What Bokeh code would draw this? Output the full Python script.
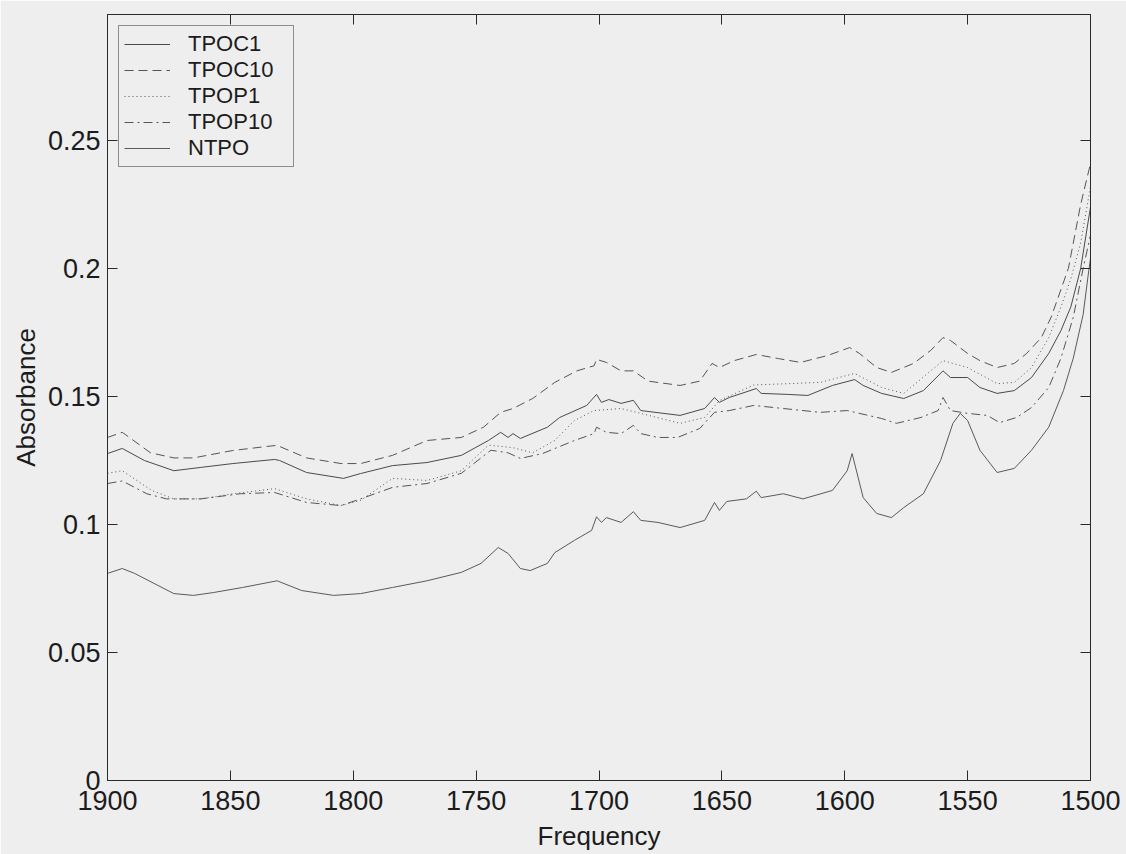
from bokeh.plotting import figure
from bokeh.models import Range1d, FixedTicker, LinearAxis, Legend, LegendItem
from bokeh.embed import file_html
from bokeh.resources import INLINE

# ---- spectra (wavenumber, absorbance) ----
tpoc1_freq = [1900, 1894, 1885, 1873, 1862, 1849, 1832, 1830, 1819, 1804,
              1797, 1784, 1770, 1756, 1745, 1740, 1737, 1735, 1732, 1721,
              1716, 1705, 1701, 1699, 1696, 1691, 1686, 1683, 1667, 1657,
              1653, 1651, 1647, 1636, 1634, 1623, 1615, 1605, 1596, 1592.5,
              1585, 1576, 1568, 1560, 1557, 1550, 1545, 1538, 1531, 1524,
              1517, 1512, 1508, 1504, 1500]
tpoc1_abs = [0.1277, 0.1297, 0.125, 0.121, 0.1223, 0.1238, 0.1254, 0.125, 0.1203, 0.118,
             0.1199, 0.123, 0.1242, 0.127, 0.1328, 0.136, 0.134, 0.1355, 0.1336, 0.138,
             0.1418, 0.1465, 0.1508, 0.1477, 0.1488, 0.1473, 0.1485, 0.1445, 0.1426, 0.1453,
             0.1496, 0.1477, 0.1496, 0.1531, 0.1512, 0.1508, 0.1504, 0.1543, 0.1566, 0.1543,
             0.1512, 0.1492, 0.1523, 0.160, 0.1574, 0.1574, 0.1535, 0.1512, 0.1523, 0.1574,
             0.1668, 0.1758, 0.185, 0.200, 0.224]

tpoc10_freq = [1900, 1894, 1882.5, 1873, 1865, 1849, 1835, 1831, 1819, 1805,
               1797, 1784, 1770, 1756, 1747, 1740, 1735, 1727, 1718, 1709,
               1702, 1701, 1697, 1691, 1686, 1680, 1667, 1659, 1654, 1651,
               1645, 1636, 1627, 1618, 1607, 1598, 1594, 1587, 1581, 1572,
               1565, 1560, 1557, 1550, 1545, 1538, 1531, 1526, 1520, 1516,
               1509, 1504, 1500]
tpoc10_abs = [0.134, 0.136, 0.128, 0.126, 0.126, 0.1289, 0.1305, 0.1309, 0.126, 0.1238,
              0.1238, 0.127, 0.1328, 0.134, 0.138, 0.1438, 0.1453, 0.1492, 0.1555, 0.160,
              0.162, 0.1645, 0.1633, 0.160, 0.160, 0.156, 0.1543, 0.156, 0.1629, 0.1613,
              0.164, 0.1664, 0.1648, 0.1633, 0.166, 0.1691, 0.1668, 0.1613, 0.1594, 0.1629,
              0.168, 0.173, 0.1719, 0.1668, 0.164, 0.1613, 0.1629, 0.1668, 0.173, 0.181,
              0.200, 0.225, 0.241]

tpop1_freq = [1900, 1894, 1882, 1873, 1862, 1849, 1832, 1819, 1805, 1797,
              1784, 1770, 1756, 1745, 1735, 1727, 1718, 1710, 1702, 1691,
              1683, 1667, 1657, 1651, 1637, 1623, 1610, 1596, 1585, 1576,
              1560, 1550, 1538, 1531, 1524, 1517, 1512, 1508, 1504, 1500]
tpop1_abs = [0.12, 0.121, 0.1133, 0.110, 0.110, 0.112, 0.114, 0.110, 0.1074, 0.1094,
             0.118, 0.1172, 0.121, 0.131, 0.130, 0.128, 0.1328, 0.1406, 0.1445, 0.1453,
             0.1434, 0.1395, 0.1418, 0.1484, 0.1545, 0.155, 0.1555, 0.159, 0.1535, 0.1512,
             0.164, 0.1613, 0.155, 0.1555, 0.1613, 0.173, 0.185, 0.196, 0.210, 0.232]

tpop10_freq = [1900, 1894, 1884, 1876, 1862, 1846, 1832, 1819, 1805, 1797,
               1784, 1770, 1756, 1744, 1737, 1732, 1723, 1710, 1702, 1701,
               1697, 1691, 1686, 1683, 1676, 1668, 1659, 1653, 1647, 1637,
               1625, 1610, 1599, 1585, 1579, 1569, 1562, 1560, 1557, 1550,
               1542, 1537, 1530, 1524, 1517, 1512, 1507, 1503, 1500]
tpop10_abs = [0.116, 0.117, 0.112, 0.110, 0.110, 0.112, 0.1125, 0.1086, 0.1074, 0.110,
              0.1145, 0.116, 0.12, 0.129, 0.128, 0.1258, 0.1277, 0.1328, 0.1355, 0.138,
              0.136, 0.1355, 0.1387, 0.1355, 0.134, 0.134, 0.1375, 0.1438, 0.1445, 0.1465,
              0.1453, 0.1438, 0.1445, 0.1414, 0.1395, 0.1418, 0.1445, 0.1496, 0.1445, 0.1434,
              0.1426, 0.1398, 0.1418, 0.1457, 0.1535, 0.165, 0.181, 0.200, 0.213]

ntpo_freq = [1900, 1894, 1889, 1873, 1865, 1857, 1845, 1831, 1821, 1808,
             1797, 1784, 1770, 1756, 1748, 1741, 1737, 1732, 1728, 1721,
             1718, 1710, 1703, 1701, 1699, 1697, 1691, 1686, 1683, 1676,
             1667, 1657, 1653, 1651, 1648, 1640, 1636, 1634, 1625, 1617,
             1605, 1599, 1597, 1592.5, 1587, 1581, 1576, 1568, 1561, 1556,
             1553, 1550, 1545, 1538, 1531, 1524, 1517, 1511, 1507, 1503,
             1501, 1500]
ntpo_abs = [0.0809, 0.0828, 0.0809, 0.073, 0.0723, 0.0734, 0.0754, 0.078, 0.0742, 0.0723,
            0.073, 0.0754, 0.078, 0.0813, 0.0848, 0.091, 0.0887, 0.0828, 0.082, 0.0848,
            0.089, 0.0938, 0.0977, 0.103, 0.1008, 0.1027, 0.1008, 0.105, 0.1016, 0.1008,
            0.0988, 0.1016, 0.1086, 0.1055, 0.109, 0.110, 0.113, 0.1105, 0.112, 0.110,
            0.1133, 0.121, 0.1277, 0.1105, 0.1043, 0.1027, 0.1066, 0.112, 0.125, 0.1395,
            0.1434, 0.1406, 0.129, 0.1203, 0.1219, 0.129, 0.138, 0.1523, 0.165, 0.182,
            0.197, 0.204]

series_names = ["TPOC1", "TPOC10", "TPOP1", "TPOP10", "NTPO"]
x_ticks = [1900, 1850, 1800, 1750, 1700, 1650, 1600, 1550, 1500]
y_ticks = [0, 0.05, 0.1, 0.15, 0.2, 0.25]
y_tick_labels = ["0", "0.05", "0.1", "0.15", "0.2", "0.25"]

BG = "#eeeeee"
INK = "#1c1c1c"
FONT = "Liberation Sans"

p = figure(width=1126, height=854, output_backend="svg", toolbar_location=None,
           x_range=Range1d(1900, 1500), y_range=Range1d(0, 0.2992),
           min_border_left=107, min_border_right=36, min_border_top=14,
           min_border_bottom=74, background_fill_color=BG, border_fill_color=BG,
           outline_line_color="#2a2a2a", outline_line_width=1)
p.grid.visible = False


def style_axis(ax, ticks, labelled):
    ax.ticker = FixedTicker(ticks=ticks)
    ax.minor_tick_line_color = None
    ax.major_tick_in = 10
    ax.major_tick_out = 0
    ax.major_tick_line_color = "#2a2a2a"
    ax.axis_line_color = "#2a2a2a"
    if labelled:
        ax.major_label_text_font = FONT
        ax.major_label_text_font_size = "27px"
        ax.major_label_text_color = INK
        ax.axis_label_text_font = FONT
        ax.axis_label_text_font_size = "26px"
        ax.axis_label_text_font_style = "normal"
        ax.axis_label_text_color = INK
    else:
        ax.major_label_text_font_size = "1px"
        ax.major_label_text_color = None
        ax.major_label_standoff = 0


xb = p.xaxis[0]
yl = p.yaxis[0]
style_axis(xb, x_ticks, True)
style_axis(yl, y_ticks, True)
xb.axis_label = "Frequency"
xb.major_label_standoff = 10
xb.axis_label_standoff = 8
yl.axis_label = "Absorbance"
yl.major_label_standoff = 7
yl.axis_label_standoff = 4
yl.major_label_overrides = {t: s for t, s in zip(y_ticks, y_tick_labels)}

xt = LinearAxis()
yr = LinearAxis()
style_axis(xt, x_ticks, False)
style_axis(yr, y_ticks, False)
p.add_layout(xt, "above")
p.add_layout(yr, "right")

LINE = "#555555"
styles = [
    (tpoc1_freq, tpoc1_abs, "solid", "#4a4a4a"),
    (tpoc10_freq, tpoc10_abs, "9 5", LINE),
    (tpop1_freq, tpop1_abs, "1 3", LINE),
    (tpop10_freq, tpop10_abs, "9 4 2 4", LINE),
    (ntpo_freq, ntpo_abs, "solid", "#5a5a5a"),
]

items = []
for name, (fx, fy, dash, col) in zip(series_names, styles):
    r = p.line(fx, fy, line_color=col, line_width=1.0, line_dash=dash)
    items.append(LegendItem(label=name, renderers=[r]))

legend = Legend(items=items, location="top_left")
legend.margin = 11
legend.padding = 5
legend.spacing = 0
legend.glyph_width = 46
legend.glyph_height = 24
legend.label_height = 24
legend.label_width = 100
legend.label_standoff = 18
legend.label_text_font = FONT
legend.label_text_font_size = "22px"
legend.label_text_color = INK
legend.border_line_color = "#2a2a2a"
legend.border_line_width = 1
legend.background_fill_color = BG
legend.background_fill_alpha = 1.0
p.add_layout(legend)

open("out.html", "w").write(file_html(p, INLINE))
